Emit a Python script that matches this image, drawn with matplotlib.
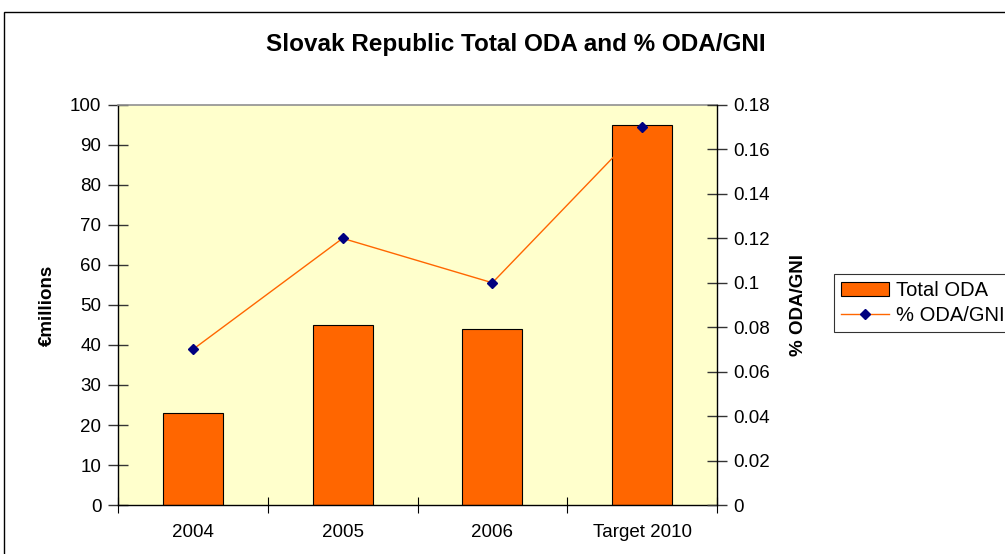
import matplotlib
matplotlib.use("Agg")
import matplotlib.pyplot as plt
from matplotlib.patches import Rectangle
import numpy as np

categories = ["2004", "2005", "2006", "Target 2010"]
total_oda = [23, 45, 44, 95]
pct_oda_gni = [0.07, 0.12, 0.10, 0.17]
left_ticks = [0, 10, 20, 30, 40, 50, 60, 70, 80, 90, 100]
right_ticks = [0, 0.02, 0.04, 0.06, 0.08, 0.1, 0.12, 0.14, 0.16, 0.18]
right_tick_labels = ["0", "0.02", "0.04", "0.06", "0.08", "0.1", "0.12", "0.14", "0.16", "0.18"]

plt.rcParams["font.family"] = ["Liberation Sans", "DejaVu Sans"]

W, H = 1005, 554
TICK_FS = 13.5
fig = plt.figure(figsize=(W / 100, H / 100), dpi=100)
fig.patch.set_facecolor("white")

# chart-area frame
fig.patches.append(Rectangle((4 / W, -0.05), 1.2, (H - 12) / H + 0.05,
                             transform=fig.transFigure, fill=False,
                             edgecolor="black", linewidth=1.0))

ax = fig.add_axes([118 / W, 1 - 505 / H, (717 - 118) / W, (505 - 105) / H])
ax.set_facecolor("#FFFFCC")
x = np.arange(len(categories))
ax.bar(x, total_oda, width=0.4, color="#FF6600", edgecolor="black",
       linewidth=0.8, label="Total ODA", zorder=2)
ax.set_xlim(-0.5, len(categories) - 0.5)
ax.set_ylim(0, 100)
ax.set_yticks(left_ticks)
ax.set_yticklabels([str(t) for t in left_ticks], fontsize=TICK_FS)
ax.set_xticks(x)
ax.set_xticklabels(categories, fontsize=TICK_FS)
ax.tick_params(axis="x", length=0, pad=14)
ax.set_xticks(np.arange(-0.5, len(categories)), minor=True)
ax.tick_params(axis="x", which="minor", direction="inout", length=11, width=0.8, color="black")
ax.tick_params(axis="y", direction="inout", length=14, width=1.0, color="#333333", pad=5)
for s in ["left", "bottom"]:
    ax.spines[s].set_color("black")
    ax.spines[s].set_linewidth(1.0)
ax.spines["top"].set_color("#909090")
ax.spines["top"].set_linewidth(1.2)
ax.spines["right"].set_visible(False)
ax.set_ylabel("€millions", fontsize=TICK_FS, fontweight="bold", labelpad=10)

ax2 = ax.twinx()
ax2.plot(x, pct_oda_gni, color="#FF6600", linewidth=1.0, marker="D",
         markersize=5.5, markerfacecolor="#000080", markeredgecolor="#000080",
         label="% ODA/GNI", zorder=3)
ax2.set_ylim(0, 0.18)
ax2.set_yticks(right_ticks)
ax2.set_yticklabels(right_tick_labels, fontsize=TICK_FS)
ax2.tick_params(axis="y", direction="inout", length=14, width=1.0, color="#333333", pad=5)
for s in ["left", "top", "bottom"]:
    ax2.spines[s].set_visible(False)
ax2.spines["right"].set_color("black")
ax2.spines["right"].set_linewidth(1.0)
ax2.set_ylabel("% ODA/GNI", fontsize=TICK_FS, fontweight="bold", labelpad=14)

fig.text(516 / W, 1 - 45 / H, "Slovak Republic Total ODA and % ODA/GNI",
         ha="center", va="center", fontsize=17.5, fontweight="bold")

h1, l1 = ax.get_legend_handles_labels()
h2, l2 = ax2.get_legend_handles_labels()
leg = fig.legend(h1 + h2, l1 + l2, loc="upper left",
                 bbox_to_anchor=(834 / W, 1 - 274 / H), fontsize=14.5,
                 frameon=True, fancybox=False, edgecolor="black",
                 borderaxespad=0, handlelength=2.4, handletextpad=0.35,
                 labelspacing=0.3, borderpad=0.35)
leg.get_frame().set_linewidth(0.8)

fig.savefig("out.png", dpi=100)
